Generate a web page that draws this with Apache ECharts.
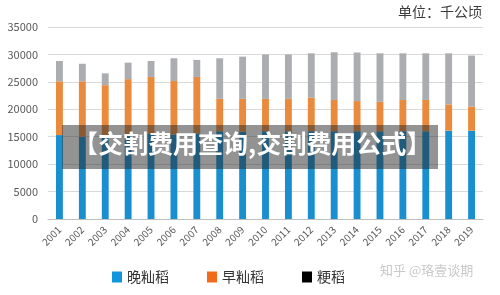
<!DOCTYPE html>
<html>
<head>
<meta charset="utf-8">
<script src="https://cdn.jsdelivr.net/npm/echarts@6/dist/echarts.min.js"></script>
<style>
  html, body { margin: 0; padding: 0; background: #fff; }
  #chart { width: 500px; height: 295px; }
</style>
</head>
<body>
<div id="chart"></div>
<script>
// 年份
var years = ['2001', '2002', '2003', '2004', '2005', '2006', '2007', '2008', '2009', '2010',
  '2011', '2012', '2013', '2014', '2015', '2016', '2017', '2018', '2019'];
// 晚籼稻 (千公顷)
var lateIndica = [15300, 15000, 14800, 15300, 15500, 15400, 15600, 16000, 15900, 16000,
  16000, 16000, 16000, 16000, 16000, 16000, 16000, 16100, 16100];
// 早籼稻 = 柱中段
var earlyIndica = [9800, 10100, 9600, 10200, 10400, 9750, 10300, 5900, 6000, 5900,
  5900, 6100, 5700, 5500, 5350, 5700, 5700, 4800, 4400];
// 粳稻 = 柱顶段
var japonica = [3700, 3200, 2150, 3000, 2900, 4150, 3100, 7400, 7700, 8100,
  8100, 8100, 8700, 8850, 8850, 8500, 8500, 9300, 9300];
var yTicks = [0, 5000, 10000, 15000, 20000, 25000, 30000, 35000];

var chart = echarts.init(document.getElementById('chart'), null, { renderer: 'canvas' });

var labelColor = '#595959';
var font = '"Noto Sans CJK SC", "Liberation Sans", sans-serif';

var options = {
  animation: false,
  textStyle: { fontFamily: font },
  grid: { left: 48, right: 17, top: 27, bottom: 76 },
  // 图例, 粳稻图标为黑色
  legend: {
    left: 107,
    top: 265,
    itemWidth: 10,
    itemHeight: 11,
    itemGap: 38,
    itemTextGap: 3,
    icon: 'rect',
    textStyle: { fontSize: 14, color: '#333', fontFamily: font },
    data: [
      { name: '晚籼稻', itemStyle: { color: '#1296db' } },
      { name: '早籼稻', itemStyle: { color: '#f26b1d' } },
      { name: '粳稻', itemStyle: { color: '#000000' } }
    ]
  },
  xAxis: {
    type: 'category',
    data: years,
    axisLine: { lineStyle: { color: '#bfbfbf', width: 1 } },
    axisTick: { show: false },
    axisLabel: { rotate: 45, color: labelColor, fontSize: 10, margin: 9, interval: 0 }
  },
  yAxis: {
    type: 'value',
    min: 0,
    max: yTicks[yTicks.length - 1],
    interval: yTicks[1] - yTicks[0],
    axisLine: { show: false },
    axisTick: { show: false },
    axisLabel: { color: labelColor, fontSize: 11, margin: 10, formatter: function (v) { return String(v); } },
    splitLine: { lineStyle: { color: '#d9d9d9' } }
  },
  series: [
    { name: '晚籼稻', type: 'bar', stack: 'rice', barWidth: '30%', data: lateIndica,
      itemStyle: { color: '#1a8fd0' } },
    { name: '早籼稻', type: 'bar', stack: 'rice', barWidth: '30%', data: earlyIndica,
      itemStyle: { color: '#ea8a3c' } },
    { name: '粳稻', type: 'bar', stack: 'rice', barWidth: '30%', data: japonica,
      itemStyle: { color: '#abadb1' } }
  ],
  graphic: [
    // 单位
    { type: 'text', right: 18, top: 5,
      style: { text: '单位：千公顷', fontSize: 14, fill: '#3a3a3a', fontFamily: font } },
    // 水印
    { type: 'text', left: 380, top: 264, z: 100,
      style: { text: '知乎 @珞壹谈期', fontSize: 13, fill: '#c9c9c9', fontFamily: font } },
    // 标题遮罩
    { type: 'rect', z: 100, shape: { x: 62, y: 125, width: 376, height: 44 },
      style: { fill: 'rgba(40,40,40,0.5)' } },
    { type: 'text', z: 101, left: 73, top: 131,
      style: { text: '【交割费用查询,交割费用公式】', fontSize: 25, fontWeight: 'bold',
        fill: '#ffffff', fontFamily: font } }
  ]
};

chart.setOption(options);
</script>
</body>
</html>
